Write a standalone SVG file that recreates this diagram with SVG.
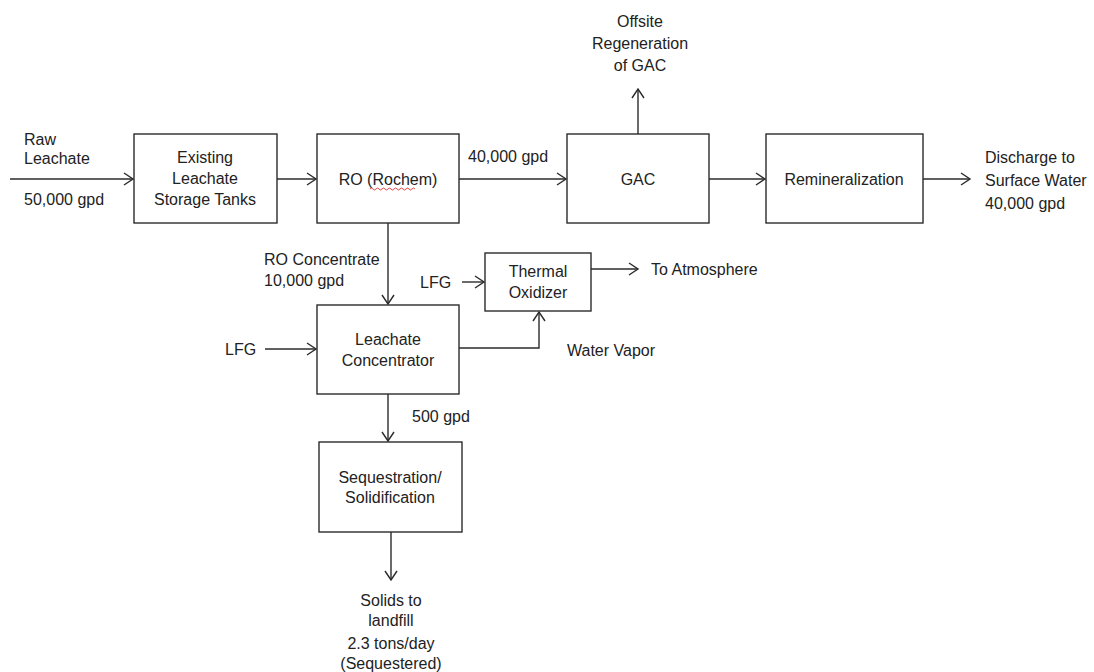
<svg xmlns="http://www.w3.org/2000/svg" width="1094" height="672" viewBox="0 0 1094 672">
  <style>
    .box { fill: #ffffff; stroke: #2b2b2b; stroke-width: 1.4; }
    .flow { fill: none; stroke: #2b2b2b; stroke-width: 1.4; marker-end: url(#arrow); }
    text { font-family: "Liberation Sans", Arial, sans-serif; font-size: 16px; fill: #222222; }
    .c { text-anchor: middle; }
  </style>
  <defs>
    <marker id="arrow" markerUnits="userSpaceOnUse" markerWidth="12" markerHeight="14" refX="10" refY="7" orient="auto" viewBox="0 0 12 14">
      <path d="M1,1 L10,7 L1,13" fill="none" stroke="#2b2b2b" stroke-width="1.4"/>
    </marker>
  </defs>
  <rect width="1094" height="672" fill="#ffffff"/>

  <!-- connectors -->
  <g id="connectors">
    <line class="flow" x1="10" y1="179" x2="133" y2="179"/>
    <line class="flow" x1="277" y1="179" x2="316" y2="179"/>
    <line class="flow" x1="459" y1="179" x2="566" y2="179"/>
    <line class="flow" x1="709" y1="179" x2="765" y2="179"/>
    <line class="flow" x1="923" y1="179" x2="970" y2="179"/>
    <line class="flow" x1="638" y1="134" x2="638" y2="89"/>
    <line class="flow" x1="388" y1="223" x2="388" y2="304"/>
    <line class="flow" x1="265" y1="349" x2="316" y2="349"/>
    <line class="flow" x1="462" y1="282" x2="484" y2="282"/>
    <polyline class="flow" points="459,348 539,348 539,312"/>
    <line class="flow" x1="591" y1="269" x2="638" y2="269"/>
    <line class="flow" x1="388" y1="394" x2="388" y2="441"/>
    <line class="flow" x1="391" y1="532" x2="391" y2="580"/>
  </g>

  <!-- flow labels -->
  <g id="labels">
    <text x="24" y="145">Raw</text>
    <text x="24" y="164">Leachate</text>
    <text x="24" y="205">50,000 gpd</text>
    <text x="468" y="162">40,000 gpd</text>
    <text class="c" x="640" y="27">Offsite</text>
    <text class="c" x="640" y="49">Regeneration</text>
    <text class="c" x="640" y="71">of GAC</text>
    <text x="985" y="163">Discharge to</text>
    <text x="985" y="186">Surface Water</text>
    <text x="985" y="209">40,000 gpd</text>
    <text x="264" y="265">RO Concentrate</text>
    <text x="264" y="286">10,000 gpd</text>
    <text x="420" y="288">LFG</text>
    <text x="225" y="355">LFG</text>
    <text x="651" y="275">To Atmosphere</text>
    <text x="567" y="356">Water Vapor</text>
    <text x="412" y="422">500 gpd</text>
    <text class="c" x="391" y="606">Solids to</text>
    <text class="c" x="391" y="626">landfill</text>
    <text class="c" x="391" y="649">2.3 tons/day</text>
    <text class="c" x="391" y="669">(Sequestered)</text>
  </g>

  <!-- process units -->
  <g id="storage-tanks">
    <rect class="box" x="134" y="134" width="143" height="89"/>
    <text class="c" x="205" y="163">Existing</text>
    <text class="c" x="205" y="184">Leachate</text>
    <text class="c" x="205" y="205">Storage Tanks</text>
  </g>
  <g id="ro">
    <rect class="box" x="317" y="134" width="142" height="89"/>
    <text class="c" x="388" y="185">RO (Rochem)</text>
    <!-- spell-check squiggle under the vendor name -->
    <path d="M370,189 q1.5,-2 3,0 t3,0 t3,0 t3,0 t3,0 t3,0 t3,0 t3,0 t3,0 t3,0 t3,0 t3,0 t3,0 t3,0 t3,0" fill="none" stroke="#e03030" stroke-width="0.9"/>
  </g>
  <g id="gac">
    <rect class="box" x="567" y="134" width="142" height="89"/>
    <text class="c" x="638" y="185">GAC</text>
  </g>
  <g id="remineralization">
    <rect class="box" x="766" y="134" width="157" height="89"/>
    <text class="c" x="844" y="185">Remineralization</text>
  </g>
  <g id="thermal-oxidizer">
    <rect class="box" x="485" y="253" width="106" height="58"/>
    <text class="c" x="538" y="277">Thermal</text>
    <text class="c" x="538" y="298">Oxidizer</text>
  </g>
  <g id="leachate-concentrator">
    <rect class="box" x="317" y="305" width="142" height="89"/>
    <text class="c" x="388" y="345">Leachate</text>
    <text class="c" x="388" y="366">Concentrator</text>
  </g>
  <g id="sequestration">
    <rect class="box" x="319" y="442" width="143" height="90"/>
    <text class="c" x="390" y="483">Sequestration/</text>
    <text class="c" x="390" y="503">Solidification</text>
  </g>
</svg>
